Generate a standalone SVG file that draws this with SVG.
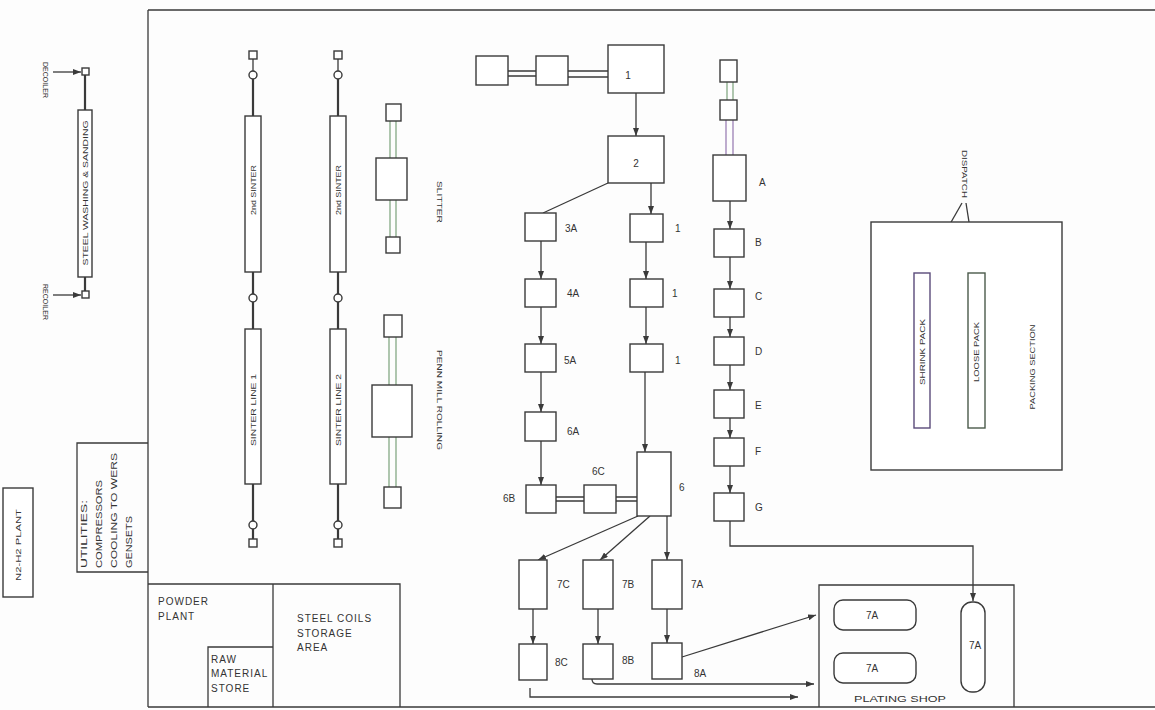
<svg xmlns="http://www.w3.org/2000/svg" width="1155" height="710" viewBox="0 0 1155 710">
<defs>
<style>
.ln{stroke:#3a3a3a;stroke-width:1.3;fill:none}
.th{stroke:#3a3a3a;stroke-width:2.2;fill:none}
.gr{stroke:#6f9a6f;stroke-width:1.1;fill:none}
.pu{stroke:#8a6aa8;stroke-width:1.1;fill:none}
.bx{fill:#fff;stroke:#3a3a3a;stroke-width:1.4}
.t{font-family:"Liberation Sans",Arial,sans-serif;font-size:10px;fill:#333}
.w{letter-spacing:1px}
.s{font-family:"Liberation Sans",Arial,sans-serif;font-size:7.5px;fill:#333}
.m{text-anchor:middle}
</style>
<marker id="ar" markerUnits="userSpaceOnUse" markerWidth="8" markerHeight="6" refX="8" refY="3" orient="auto">
<path d="M0,0 L8,3 L0,6 z" fill="#3a3a3a"/>
</marker>
</defs>
<rect x="0" y="0" width="1155" height="710" fill="#fdfdfd"/>

<g id="frame">
<path class="ln" d="M148,10 H1155 M148,10 V707 M148,707 H1155"/>
</g>

<g id="steel-washing">
<line class="th" x1="85" y1="75" x2="85" y2="292"/>
<rect class="bx" x="82" y="68" width="7" height="7"/>
<rect class="bx" x="82" y="291" width="7" height="7"/>
<rect class="bx" x="78" y="110" width="14" height="167"/>
<text class="s m" transform="translate(87.5,193) rotate(-90)" textLength="145" lengthAdjust="spacingAndGlyphs">STEEL WASHING &amp; SANDING</text>
</g>
<g id="decoiler">
<text class="s m" transform="translate(43,80) rotate(90)" textLength="36" lengthAdjust="spacingAndGlyphs">DECOILER</text>
</g>
<g id="recoiler">
<text class="s m" transform="translate(43,302) rotate(90)" textLength="36" lengthAdjust="spacingAndGlyphs">RECOILER</text>
</g>

<g id="n2h2">
<rect class="bx" x="3" y="488" width="30" height="109"/>
<text class="s m" transform="translate(21,545) rotate(-90)" textLength="72" lengthAdjust="spacingAndGlyphs">N2-H2 PLANT</text>
</g>

<g id="utilities">
<path class="ln" d="M148,443 H77 V572 H148"/>
<text class="t" style="font-size:9px" transform="translate(87,568) rotate(-90)" textLength="68" lengthAdjust="spacingAndGlyphs">UTILITIES:</text>
<text class="t" style="font-size:9px" transform="translate(102,568) rotate(-90)" textLength="88" lengthAdjust="spacingAndGlyphs">COMPRESSORS</text>
<text class="t" style="font-size:9px" transform="translate(117,568) rotate(-90)" textLength="115" lengthAdjust="spacingAndGlyphs">COOLING TO WERS</text>
<text class="t" style="font-size:9px" transform="translate(132,568) rotate(-90)" textLength="52" lengthAdjust="spacingAndGlyphs">GENSETS</text>
</g>

<g id="sinter-1">
<path class="ln" d="M253,59 V71"/>
<path class="th" d="M253,79 V116 M253,272 V294 M253,302 V329 M253,484 V521 M253,529 V539"/>
<rect class="bx" x="249" y="51" width="8" height="8"/>
<circle class="bx" cx="253" cy="75" r="4"/>
<rect class="bx" x="245" y="116" width="16" height="156"/>
<text class="s m" transform="translate(255.7,190) rotate(-90)" textLength="50" lengthAdjust="spacingAndGlyphs">2nd SINTER</text>
<circle class="bx" cx="253" cy="298" r="4"/>
<rect class="bx" x="245" y="329" width="16" height="155"/>
<text class="s m" transform="translate(255.7,410) rotate(-90)" textLength="72" lengthAdjust="spacingAndGlyphs">SINTER LINE 1</text>
<circle class="bx" cx="253" cy="525" r="4"/>
<rect class="bx" x="249" y="539" width="8" height="8"/>
</g>

<g id="sinter-2">
<path class="ln" d="M338,59 V71"/>
<path class="th" d="M338,79 V116 M338,272 V294 M338,302 V329 M338,484 V521 M338,529 V539"/>
<rect class="bx" x="334" y="51" width="8" height="8"/>
<circle class="bx" cx="338" cy="75" r="4"/>
<rect class="bx" x="330" y="116" width="16" height="156"/>
<text class="s m" transform="translate(340.7,190) rotate(-90)" textLength="50" lengthAdjust="spacingAndGlyphs">2nd SINTER</text>
<circle class="bx" cx="338" cy="298" r="4"/>
<rect class="bx" x="330" y="329" width="16" height="155"/>
<text class="s m" transform="translate(340.7,410) rotate(-90)" textLength="72" lengthAdjust="spacingAndGlyphs">SINTER LINE 2</text>
<circle class="bx" cx="338" cy="525" r="4"/>
<rect class="bx" x="334" y="539" width="8" height="8"/>
</g>

<g id="slitter">
<path class="gr" d="M390,121 V158 M396,121 V158 M390,200 V237 M396,200 V237"/>
<rect class="bx" x="386" y="104" width="15" height="17"/>
<rect class="bx" x="376" y="158" width="31" height="42"/>
<rect class="bx" x="386" y="237" width="14" height="16"/>
<text class="s m" transform="translate(437,202) rotate(90)" textLength="42" lengthAdjust="spacingAndGlyphs">SLITTER</text>
</g>

<g id="penn-mill">
<path class="gr" d="M389,337 V385 M396,337 V385 M389,437 V487 M396,437 V487"/>
<rect class="bx" x="384" y="315" width="18" height="22"/>
<rect class="bx" x="372" y="385" width="40" height="52"/>
<rect class="bx" x="384" y="487" width="17" height="21"/>
<text class="s m" transform="translate(437,400) rotate(90)" textLength="100" lengthAdjust="spacingAndGlyphs">PENN MILL ROLLING</text>
</g>

<g id="connectors">
<line class="ln" x1="53" y1="72" x2="81" y2="72" marker-end="url(#ar)"/>
<line class="ln" x1="53" y1="295" x2="81" y2="295" marker-end="url(#ar)"/>
<path class="ln" d="M508,71 H536 M508,76 H536 M568,71 H608 M568,77 H608"/>
<line class="ln" x1="636" y1="93" x2="636" y2="136" marker-end="url(#ar)"/>
<line class="ln" x1="608" y1="183" x2="543" y2="213"/>
<line class="ln" x1="651" y1="183" x2="651" y2="214" marker-end="url(#ar)"/>
<line class="ln" x1="541" y1="241" x2="541" y2="279" marker-end="url(#ar)"/>
<line class="ln" x1="541" y1="307" x2="541" y2="344" marker-end="url(#ar)"/>
<line class="ln" x1="541" y1="372" x2="541" y2="412" marker-end="url(#ar)"/>
<line class="ln" x1="541" y1="441" x2="541" y2="485" marker-end="url(#ar)"/>
<line class="ln" x1="646" y1="242" x2="646" y2="279" marker-end="url(#ar)"/>
<line class="ln" x1="646" y1="307" x2="646" y2="344" marker-end="url(#ar)"/>
<line class="ln" x1="645" y1="372" x2="645" y2="452" marker-end="url(#ar)"/>
<path class="ln" d="M556,497 H584 M556,501 H584 M616,497 H637 M616,501 H637"/>
<path class="gr" d="M727,82 V100 M733,82 V100"/>
<path class="pu" d="M726,120 V155 M733,120 V155"/>
<line class="ln" x1="730" y1="201" x2="730" y2="229" marker-end="url(#ar)"/>
<line class="ln" x1="730" y1="257" x2="730" y2="289" marker-end="url(#ar)"/>
<line class="ln" x1="730" y1="317" x2="730" y2="337" marker-end="url(#ar)"/>
<line class="ln" x1="730" y1="365" x2="730" y2="390" marker-end="url(#ar)"/>
<line class="ln" x1="730" y1="418" x2="730" y2="438" marker-end="url(#ar)"/>
<line class="ln" x1="730" y1="466" x2="730" y2="493" marker-end="url(#ar)"/>
<path class="ln" d="M730,521 V546 H973 V601" marker-end="url(#ar)"/>
<line class="ln" x1="638" y1="516" x2="538" y2="560" marker-end="url(#ar)"/>
<line class="ln" x1="650" y1="516" x2="600" y2="560" marker-end="url(#ar)"/>
<line class="ln" x1="667" y1="516" x2="667" y2="560" marker-end="url(#ar)"/>
<line class="ln" x1="533" y1="609" x2="533" y2="644" marker-end="url(#ar)"/>
<line class="ln" x1="598" y1="609" x2="598" y2="644" marker-end="url(#ar)"/>
<line class="ln" x1="667" y1="609" x2="667" y2="643" marker-end="url(#ar)"/>
<line class="ln" x1="682" y1="657" x2="816" y2="615" marker-end="url(#ar)"/>
<path class="ln" d="M592,679 Q592,684 597,684 H814" marker-end="url(#ar)"/>
<path class="ln" d="M530,688 V697 H798" marker-end="url(#ar)"/>
<line class="ln" x1="962" y1="203" x2="922" y2="273"/>
<line class="ln" x1="966" y1="203" x2="977" y2="273"/>
</g>

<g id="n-a"><rect class="bx" x="476" y="56" width="32" height="29"/></g>
<g id="n-b"><rect class="bx" x="536" y="56" width="32" height="29"/></g>
<g id="n-1"><rect class="bx" x="608" y="45" width="56" height="48"/><text class="t m" x="628" y="79">1</text></g>
<g id="n-2"><rect class="bx" x="608" y="136" width="56" height="47"/><text class="t m" x="636" y="167">2</text></g>

<g id="n-3a"><rect class="bx" x="525" y="213" width="31" height="28"/><text class="t" x="565" y="232">3A</text></g>
<g id="n-4a"><rect class="bx" x="525" y="279" width="31" height="28"/><text class="t" x="567" y="297">4A</text></g>
<g id="n-5a"><rect class="bx" x="525" y="344" width="31" height="28"/><text class="t" x="564" y="364">5A</text></g>
<g id="n-6a"><rect class="bx" x="525" y="412" width="31" height="29"/><text class="t" x="567" y="435">6A</text></g>
<g id="n-6b"><rect class="bx" x="526" y="485" width="30" height="28"/><text class="t" x="503" y="502">6B</text></g>
<g id="n-6c"><rect class="bx" x="584" y="485" width="32" height="28"/><text class="t" x="592" y="475">6C</text></g>
<g id="n-6"><rect class="bx" x="637" y="452" width="34" height="64"/><text class="t" x="679" y="491">6</text></g>

<g id="n-1a"><rect class="bx" x="630" y="214" width="33" height="28"/><text class="t" x="675" y="232">1</text></g>
<g id="n-1b"><rect class="bx" x="630" y="279" width="33" height="28"/><text class="t" x="672" y="297">1</text></g>
<g id="n-1c"><rect class="bx" x="630" y="344" width="33" height="28"/><text class="t" x="675" y="364">1</text></g>

<g id="n-top1"><rect class="bx" x="720" y="60" width="17" height="22"/></g>
<g id="n-top2"><rect class="bx" x="720" y="100" width="17" height="20"/></g>
<g id="n-A"><rect class="bx" x="713" y="155" width="33" height="46"/><text class="t" x="759" y="186">A</text></g>
<g id="n-B"><rect class="bx" x="714" y="229" width="30" height="28"/><text class="t" x="755" y="246">B</text></g>
<g id="n-C"><rect class="bx" x="714" y="289" width="30" height="28"/><text class="t" x="755" y="300">C</text></g>
<g id="n-D"><rect class="bx" x="714" y="337" width="30" height="28"/><text class="t" x="755" y="355">D</text></g>
<g id="n-E"><rect class="bx" x="714" y="390" width="30" height="28"/><text class="t" x="755" y="409">E</text></g>
<g id="n-F"><rect class="bx" x="714" y="438" width="30" height="28"/><text class="t" x="755" y="455">F</text></g>
<g id="n-G"><rect class="bx" x="714" y="493" width="30" height="28"/><text class="t" x="755" y="511">G</text></g>

<g id="n-7c"><rect class="bx" x="519" y="560" width="28" height="49"/><text class="t" x="557" y="588">7C</text></g>
<g id="n-7b"><rect class="bx" x="583" y="560" width="30" height="49"/><text class="t" x="622" y="588">7B</text></g>
<g id="n-7a"><rect class="bx" x="652" y="560" width="30" height="49"/><text class="t" x="691" y="588">7A</text></g>
<g id="n-8c"><rect class="bx" x="519" y="644" width="28" height="36"/><text class="t" x="555" y="666">8C</text></g>
<g id="n-8b"><rect class="bx" x="583" y="644" width="30" height="35"/><text class="t" x="622" y="664">8B</text></g>
<g id="n-8a"><rect class="bx" x="652" y="643" width="30" height="36"/><text class="t" x="694" y="677">8A</text></g>

<g id="packing">
<rect class="bx" x="871" y="222" width="191" height="248"/>
<text class="s m" transform="translate(1034.5,367) rotate(-90)" textLength="85" lengthAdjust="spacingAndGlyphs">PACKING SECTION</text>
</g>
<g id="shrink-pack">
<rect class="bx" x="914" y="273" width="16" height="155" style="stroke:#5a4a7a"/>
<text class="s m" transform="translate(924.7,352) rotate(-90)" textLength="66" lengthAdjust="spacingAndGlyphs">SHRINK PACK</text>
</g>
<g id="loose-pack">
<rect class="bx" x="968" y="273" width="17" height="155" style="stroke:#4a5a4a"/>
<text class="s m" transform="translate(979.2,352) rotate(-90)" textLength="60" lengthAdjust="spacingAndGlyphs">LOOSE PACK</text>
</g>
<g id="dispatch">
<text class="s m" transform="translate(961.5,174) rotate(90)" textLength="48" lengthAdjust="spacingAndGlyphs">DISPATCH</text>
</g>

<g id="plating">
<path class="ln" d="M819,707 V585 H1014 V707"/>
<text class="t m" x="900" y="702" style="font-size:9px" textLength="92" lengthAdjust="spacingAndGlyphs">PLATING SHOP</text>
</g>
<g id="p-7a1"><rect class="bx" x="834" y="600" width="82" height="30" rx="9"/><text class="t m" x="872" y="619">7A</text></g>
<g id="p-7a2"><rect class="bx" x="834" y="653" width="82" height="30" rx="9"/><text class="t m" x="872" y="672">7A</text></g>
<g id="p-7a3"><rect class="bx" x="961" y="602" width="24" height="90" rx="11"/><text class="t m" x="975" y="649">7A</text></g>

<g id="powder-plant">
<path class="ln" d="M148,584 H400 V707 M273,584 V707"/>
<text class="t w" x="158" y="605">POWDER</text>
<text class="t w" x="158" y="620">PLANT</text>
</g>
<g id="raw-material">
<path class="ln" d="M208,707 V647 H273"/>
<text class="t w" x="211" y="663">RAW</text>
<text class="t w" x="211" y="677">MATERIAL</text>
<text class="t w" x="211" y="692">STORE</text>
</g>
<g id="steel-coils">
<text class="t w" x="297" y="622">STEEL COILS</text>
<text class="t w" x="297" y="637">STORAGE</text>
<text class="t w" x="297" y="651">AREA</text>
</g>
</svg>
